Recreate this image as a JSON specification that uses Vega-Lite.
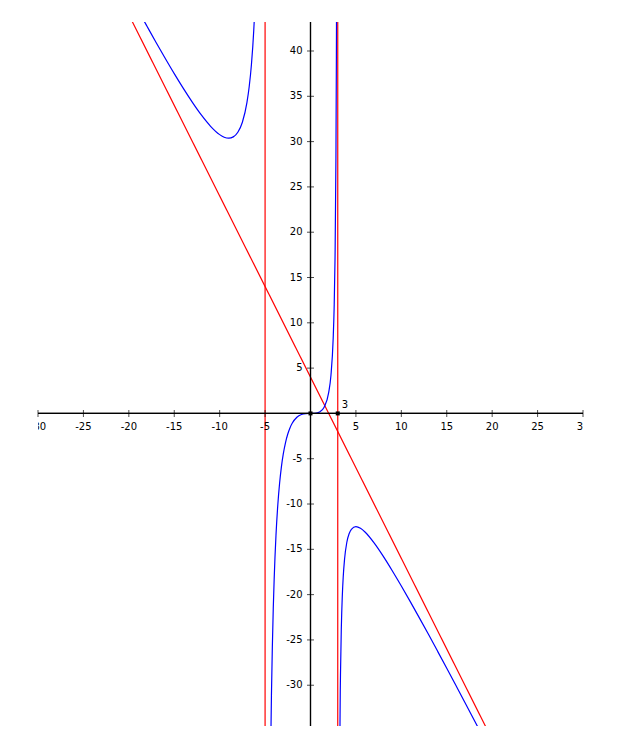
{
  "$schema": "https://vega.github.io/schema/vega-lite/v6.json",
  "width": 545,
  "height": 704,
  "autosize": {"type": "none"},
  "padding": {"left": 38, "top": 22, "right": 42, "bottom": 21},
  "background": "white",
  "config": {"view": {"stroke": null}, "text": {"font": "DejaVu Sans", "fontSize": 10, "color": "black"}},
  "datasets": {
    "curve": [
      {"x": -19, "y": 44.54, "b": 1}, {"x": -18.5, "y": 43.63, "b": 1}, {"x": -18, "y": 42.73, "b": 1}, {"x": -17, "y": 40.94, "b": 1},
      {"x": -16, "y": 39.2, "b": 1}, {"x": -15, "y": 37.5, "b": 1}, {"x": -14, "y": 35.87, "b": 1}, {"x": -13, "y": 34.33, "b": 1},
      {"x": -12, "y": 32.91, "b": 1}, {"x": -11, "y": 31.69, "b": 1}, {"x": -10, "y": 30.77, "b": 1}, {"x": -9.5, "y": 30.48, "b": 1},
      {"x": -9, "y": 30.375, "b": 1}, {"x": -8.5, "y": 30.52, "b": 1}, {"x": -8, "y": 31.03, "b": 1}, {"x": -7.5, "y": 32.14, "b": 1},
      {"x": -7, "y": 34.3, "b": 1}, {"x": -6.75, "y": 36.05, "b": 1}, {"x": -6.5, "y": 38.54, "b": 1}, {"x": -6.25, "y": 42.23, "b": 1},
      {"x": -6, "y": 48, "b": 1}, {"x": -5.75, "y": 57.94, "b": 1}, {"x": -5.5, "y": 78.3, "b": 1},
      {"x": -4.9, "y": -297.8, "b": 2}, {"x": -4.8, "y": -141.8, "b": 2}, {"x": -4.7, "y": -89.9, "b": 2}, {"x": -4.6, "y": -64.0, "b": 2},
      {"x": -4.5, "y": -48.6, "b": 2}, {"x": -4.4, "y": -38.37, "b": 2}, {"x": -4.3, "y": -31.12, "b": 2}, {"x": -4.2, "y": -25.73, "b": 2},
      {"x": -4.1, "y": -21.57, "b": 2}, {"x": -4, "y": -18.29, "b": 2}, {"x": -3.8, "y": -13.45, "b": 2}, {"x": -3.6, "y": -10.1, "b": 2},
      {"x": -3.4, "y": -7.68, "b": 2}, {"x": -3.2, "y": -5.87, "b": 2}, {"x": -3, "y": -4.5, "b": 2}, {"x": -2.75, "y": -3.215, "b": 2},
      {"x": -2.5, "y": -2.273, "b": 2}, {"x": -2.25, "y": -1.578, "b": 2}, {"x": -2, "y": -1.067, "b": 2}, {"x": -1.5, "y": -0.4286, "b": 2},
      {"x": -1, "y": -0.125, "b": 2}, {"x": -0.5, "y": -0.0159, "b": 2}, {"x": 0, "y": 0, "b": 2}, {"x": 0.5, "y": 0.0182, "b": 2},
      {"x": 1, "y": 0.1667, "b": 2}, {"x": 1.5, "y": 0.692, "b": 2}, {"x": 2, "y": 2.286, "b": 2}, {"x": 2.25, "y": 4.19, "b": 2},
      {"x": 2.5, "y": 8.33, "b": 2}, {"x": 2.6, "y": 11.56, "b": 2}, {"x": 2.7, "y": 17.04, "b": 2}, {"x": 2.8, "y": 28.14, "b": 2},
      {"x": 2.85, "y": 39.32, "b": 2}, {"x": 2.9, "y": 61.74, "b": 2}, {"x": 2.95, "y": 129.2, "b": 2},
      {"x": 3.05, "y": -141.0, "b": 3}, {"x": 3.1, "y": -73.56, "b": 3}, {"x": 3.2, "y": -39.96, "b": 3}, {"x": 3.3, "y": -28.87, "b": 3},
      {"x": 3.4, "y": -23.4, "b": 3}, {"x": 3.5, "y": -20.18, "b": 3}, {"x": 3.6, "y": -18.08, "b": 3}, {"x": 3.75, "y": -16.07, "b": 3},
      {"x": 4, "y": -14.22, "b": 3}, {"x": 4.25, "y": -13.28, "b": 3}, {"x": 4.5, "y": -12.79, "b": 3}, {"x": 5, "y": -12.5, "b": 3},
      {"x": 5.5, "y": -12.68, "b": 3}, {"x": 6, "y": -13.09, "b": 3}, {"x": 7, "y": -14.29, "b": 3}, {"x": 8, "y": -15.75, "b": 3},
      {"x": 9, "y": -17.36, "b": 3}, {"x": 10, "y": -19.05, "b": 3}, {"x": 11, "y": -20.8, "b": 3}, {"x": 12, "y": -22.59, "b": 3},
      {"x": 13, "y": -24.41, "b": 3}, {"x": 14, "y": -26.26, "b": 3}, {"x": 15, "y": -28.125, "b": 3}, {"x": 16, "y": -30.01, "b": 3},
      {"x": 17, "y": -31.9, "b": 3}, {"x": 18, "y": -33.81, "b": 3}, {"x": 19, "y": -35.72, "b": 3}
    ],
    "vert": [{"x": -5}, {"x": 3}],
    "oblique": [{"x": -20, "y": 44}, {"x": 20, "y": -36}],
    "xt": [
      {"v": -30, "t": "-30"}, {"v": -25, "t": "-25"}, {"v": -20, "t": "-20"}, {"v": -15, "t": "-15"}, {"v": -10, "t": "-10"}, {"v": -5, "t": "-5"},
      {"v": 5, "t": "5"}, {"v": 10, "t": "10"}, {"v": 15, "t": "15"}, {"v": 20, "t": "20"}, {"v": 25, "t": "25"}, {"v": 30, "t": "30"}
    ],
    "yt": [
      {"v": -30, "t": "-30"}, {"v": -25, "t": "-25"}, {"v": -20, "t": "-20"}, {"v": -15, "t": "-15"}, {"v": -10, "t": "-10"}, {"v": -5, "t": "-5"},
      {"v": 5, "t": "5"}, {"v": 10, "t": "10"}, {"v": 15, "t": "15"}, {"v": 20, "t": "20"}, {"v": 25, "t": "25"}, {"v": 30, "t": "30"},
      {"v": 35, "t": "35"}, {"v": 40, "t": "40"}
    ],
    "pts": [{"x": 0, "y": 0, "t": ""}, {"x": 3, "y": 0, "t": "3"}]
  },
  "layer": [
    {
      "data": {"name": "vert"},
      "mark": {"type": "rule", "color": "#ff0000", "strokeWidth": 1.2},
      "encoding": {
        "x": {"field": "x", "type": "quantitative", "scale": {"domain": [-30, 30], "nice": false, "zero": false}, "axis": null}
      }
    },
    {
      "data": {"name": "oblique"},
      "mark": {"type": "line", "color": "#ff0000", "strokeWidth": 1.2, "clip": true},
      "encoding": {
        "x": {"field": "x", "type": "quantitative", "scale": {"domain": [-30, 30], "nice": false, "zero": false}, "axis": null},
        "y": {"field": "y", "type": "quantitative", "scale": {"domain": [-34.5, 43.2], "nice": false, "zero": false}, "axis": null}
      }
    },
    {
      "data": {"name": "curve"},
      "mark": {"type": "line", "color": "#0000ff", "strokeWidth": 1.2, "clip": true, "interpolate": "monotone"},
      "encoding": {
        "x": {"field": "x", "type": "quantitative", "scale": {"domain": [-30, 30], "nice": false, "zero": false}, "axis": null},
        "y": {"field": "y", "type": "quantitative", "scale": {"domain": [-34.5, 43.2], "nice": false, "zero": false}, "axis": null},
        "detail": {"field": "b", "type": "nominal"}
      }
    },
    {
      "data": {"name": "pts"},
      "mark": {"type": "rule", "color": "black", "strokeWidth": 1.2},
      "encoding": {
        "y": {"datum": 0, "type": "quantitative", "scale": {"domain": [-34.5, 43.2], "nice": false, "zero": false}, "axis": null}
      }
    },
    {
      "data": {"name": "pts"},
      "mark": {"type": "rule", "color": "black", "strokeWidth": 1.2},
      "encoding": {
        "x": {"datum": 0, "type": "quantitative", "scale": {"domain": [-30, 30], "nice": false, "zero": false}, "axis": null}
      }
    },
    {
      "data": {"name": "xt"},
      "mark": {"type": "tick", "orient": "vertical", "color": "black", "size": 7, "thickness": 1},
      "encoding": {
        "x": {"field": "v", "type": "quantitative", "scale": {"domain": [-30, 30], "nice": false, "zero": false}, "axis": null},
        "y": {"datum": 0, "type": "quantitative", "scale": {"domain": [-34.5, 43.2], "nice": false, "zero": false}, "axis": null}
      }
    },
    {
      "data": {"name": "yt"},
      "mark": {"type": "tick", "orient": "horizontal", "color": "black", "size": 7, "thickness": 1},
      "encoding": {
        "y": {"field": "v", "type": "quantitative", "scale": {"domain": [-34.5, 43.2], "nice": false, "zero": false}, "axis": null},
        "x": {"datum": 0, "type": "quantitative", "scale": {"domain": [-30, 30], "nice": false, "zero": false}, "axis": null}
      }
    },
    {
      "data": {"name": "xt"},
      "mark": {"type": "text", "dy": 14, "align": "center", "baseline": "middle", "clip": true},
      "encoding": {
        "x": {"field": "v", "type": "quantitative", "scale": {"domain": [-30, 30], "nice": false, "zero": false}, "axis": null},
        "y": {"datum": 0, "type": "quantitative", "scale": {"domain": [-34.5, 43.2], "nice": false, "zero": false}, "axis": null},
        "text": {"field": "t", "type": "nominal"}
      }
    },
    {
      "data": {"name": "yt"},
      "mark": {"type": "text", "dx": -8, "align": "right", "baseline": "middle"},
      "encoding": {
        "y": {"field": "v", "type": "quantitative", "scale": {"domain": [-34.5, 43.2], "nice": false, "zero": false}, "axis": null},
        "x": {"datum": 0, "type": "quantitative", "scale": {"domain": [-30, 30], "nice": false, "zero": false}, "axis": null},
        "text": {"field": "t", "type": "nominal"}
      }
    },
    {
      "data": {"name": "pts"},
      "mark": {"type": "point", "shape": "square", "filled": true, "color": "black", "size": 16, "opacity": 1},
      "encoding": {
        "x": {"field": "x", "type": "quantitative", "scale": {"domain": [-30, 30], "nice": false, "zero": false}, "axis": null},
        "y": {"field": "y", "type": "quantitative", "scale": {"domain": [-34.5, 43.2], "nice": false, "zero": false}, "axis": null}
      }
    },
    {
      "data": {"name": "pts"},
      "mark": {"type": "text", "dx": 4, "dy": -8, "align": "left", "baseline": "middle"},
      "encoding": {
        "x": {"field": "x", "type": "quantitative", "scale": {"domain": [-30, 30], "nice": false, "zero": false}, "axis": null},
        "y": {"field": "y", "type": "quantitative", "scale": {"domain": [-34.5, 43.2], "nice": false, "zero": false}, "axis": null},
        "text": {"field": "t", "type": "nominal"}
      }
    }
  ]
}
